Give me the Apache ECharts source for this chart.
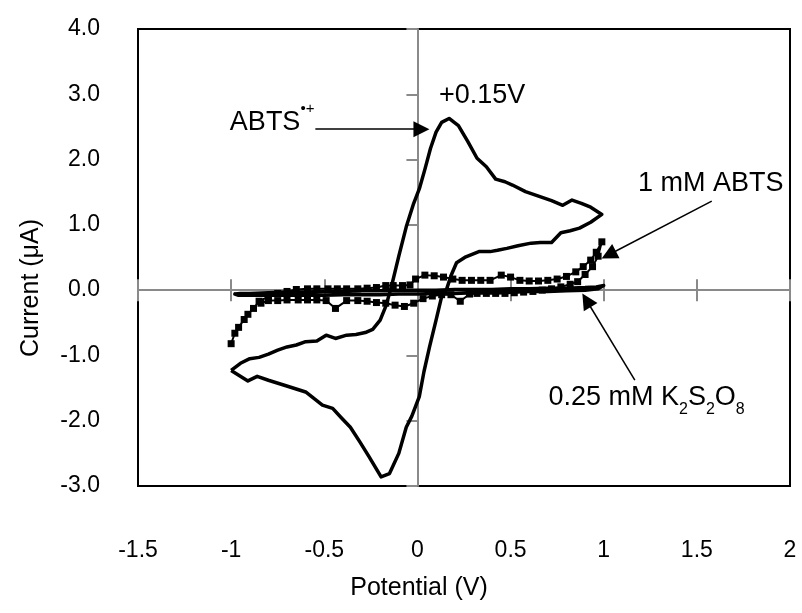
<!DOCTYPE html>
<html><head><meta charset="utf-8">
<script src="https://cdn.jsdelivr.net/npm/echarts@6/dist/echarts.min.js"></script>
<style>html,body{margin:0;padding:0;background:#fff}#c{width:802px;height:613px}</style>
</head><body><div id="c"></div>
<script>
const FONT = "'Liberation Sans', Arial, sans-serif";

// axis ranges
const xMin = -1.5, xMax = 2, xStep = 0.5;
const yMin = -3, yMax = 4, yStep = 1;

// ABTS radical cation CV (big loop)
const cvV = [-1.00,-0.95,-0.90,-0.85,-0.80,-0.75,-0.70,-0.65,-0.60,-0.54,-0.49,-0.44,-0.38,-0.33,-0.28,-0.24,-0.20,-0.17,-0.14,-0.10,-0.06,-0.02,0.01,0.04,0.07,0.10,0.13,0.17,0.22,0.27,0.32,0.37,0.42,0.47,0.51,0.58,0.65,0.72,0.78,0.83,0.88,0.93,0.99,0.93,0.87,0.82,0.77,0.72,0.66,0.61,0.54,0.48,0.43,0.39,0.33,0.26,0.21,0.18,0.155,0.13,0.10,0.065,0.035,0.01,-0.03,-0.06,-0.10,-0.15,-0.195,-0.26,-0.31,-0.36,-0.41,-0.455,-0.51,-0.60,-0.71,-0.80,-0.86,-0.91,-1.00];
const cvI = [-1.23,-1.12,-1.05,-1.03,-0.98,-0.92,-0.87,-0.84,-0.79,-0.78,-0.69,-0.74,-0.69,-0.68,-0.65,-0.60,-0.46,-0.25,0.05,0.52,0.97,1.33,1.55,1.85,2.17,2.42,2.57,2.63,2.52,2.28,2.02,1.89,1.70,1.66,1.61,1.51,1.44,1.37,1.30,1.38,1.33,1.27,1.16,1.04,0.95,0.91,0.88,0.73,0.73,0.72,0.68,0.64,0.61,0.59,0.59,0.51,0.42,0.22,0.00,-0.10,-0.46,-0.87,-1.25,-1.63,-1.93,-2.10,-2.50,-2.81,-2.86,-2.55,-2.32,-2.10,-1.95,-1.81,-1.76,-1.56,-1.46,-1.38,-1.32,-1.39,-1.23];

// 1 mM ABTS (square markers)
const abtsV = [-1.00,-0.98,-0.96,-0.93,-0.91,-0.88,-0.85,-0.80,-0.75,-0.70,-0.65,-0.59,-0.54,-0.48,-0.43,-0.38,-0.32,-0.27,-0.22,-0.17,-0.13,-0.08,-0.04,-0.01,0.04,0.09,0.14,0.19,0.24,0.29,0.34,0.39,0.45,0.50,0.55,0.60,0.65,0.70,0.75,0.80,0.85,0.89,0.93,0.96,0.99,0.97,0.94,0.90,0.86,0.82,0.77,0.72,0.67,0.62,0.57,0.52,0.47,0.42,0.37,0.32,0.28,0.23,0.18,0.13,0.08,0.03,-0.02,-0.07,-0.12,-0.17,-0.22,-0.27,-0.32,-0.38,-0.44,-0.49,-0.54,-0.59,-0.64,-0.70,-0.75,-0.80,-0.84];
const abtsI = [-0.82,-0.66,-0.57,-0.45,-0.37,-0.28,-0.17,-0.10,-0.05,-0.02,0.01,0.02,0.02,0.02,0.02,0.02,0.02,0.03,0.04,0.07,0.07,0.07,0.08,0.17,0.23,0.22,0.20,0.17,0.15,0.15,0.15,0.15,0.23,0.20,0.15,0.14,0.14,0.15,0.17,0.21,0.28,0.36,0.46,0.58,0.74,0.52,0.36,0.24,0.13,0.09,0.05,0.02,0.00,-0.02,-0.03,-0.04,-0.05,-0.05,-0.05,-0.05,-0.06,-0.17,-0.07,-0.07,-0.09,-0.13,-0.20,-0.25,-0.23,-0.20,-0.19,-0.17,-0.16,-0.16,-0.28,-0.16,-0.15,-0.15,-0.15,-0.15,-0.16,-0.16,-0.20];

// 0.25 mM K2S2O8
const persV = [-0.98,-0.95,-0.90,-0.80,-0.70,-0.60,-0.50,-0.40,-0.30,-0.20,-0.10,0.00,0.10,0.20,0.30,0.40,0.50,0.60,0.70,0.80,0.90,0.96,1.00,0.97,0.90,0.80,0.70,0.60,0.50,0.40,0.30,0.20,0.10,0.00,-0.10,-0.20,-0.30,-0.40,-0.50,-0.60,-0.70,-0.80,-0.90,-0.96,-0.98];
const persI = [-0.06,-0.05,-0.05,-0.04,-0.03,-0.03,-0.02,-0.02,-0.01,-0.01,0.00,0.00,0.00,0.01,0.01,0.01,0.02,0.02,0.03,0.03,0.04,0.05,0.07,0.02,0.00,-0.01,-0.02,-0.02,-0.03,-0.04,-0.04,-0.05,-0.05,-0.06,-0.06,-0.07,-0.07,-0.07,-0.08,-0.08,-0.08,-0.08,-0.08,-0.08,-0.06];

// annotation anchors (data coordinates)
const noteRadical = [-0.78, 2.564];
const notePeak = [0.347, 2.98];
const noteAbts = [1.575, 1.64];
const notePers = [1.23, -1.648];
const arrowRadical = [[-0.548, 2.466], [0.0215, 2.466]];
const arrowAbts = [[1.58, 1.364], [1.027, 0.542]];
const arrowPers = [[1.167, -1.379], [0.9075, -0.155]];

function zip(a, b) { return a.map((v, k) => [v, b[k]]); }

const AX = '#8a8a8a';
const baseX = { type: 'value', min: xMin, max: xMax, interval: xStep, splitLine: { show: false }, position: 'bottom' };
const baseY = { type: 'value', min: yMin, max: yMax, interval: yStep, splitLine: { show: false }, position: 'left' };

const chart = echarts.init(document.getElementById('c'), null, { renderer: 'canvas' });

function note(coord, text, extra) {
  return {
    coord: coord,
    label: Object.assign({
      show: true, position: 'inside', color: '#000', fontSize: 27, fontFamily: FONT,
      formatter: function () { return text; }
    }, extra || {})
  };
}
function arrow(pair) {
  return [
    { coord: pair[0], symbol: 'none' },
    { coord: pair[1], symbol: 'triangle', symbolSize: 16 }
  ];
}

chart.setOption({
  animation: false,
  backgroundColor: '#fff',
  grid: { left: 138, top: 29, width: 652, height: 457, show: true, borderColor: '#000', borderWidth: 2, backgroundColor: 'transparent' },
  xAxis: [
    Object.assign({}, baseX, {
      axisLine: { show: false, onZero: false }, axisTick: { show: false },
      axisLabel: { margin: 53, fontSize: 23, color: '#000', fontFamily: FONT }
    }),
    Object.assign({}, baseX, {
      axisLine: { show: true, onZero: true, onZeroAxisIndex: 0, lineStyle: { color: AX, width: 2 } },
      axisTick: { show: true, inside: true, length: 11, lineStyle: { color: AX, width: 2 } },
      axisLabel: { show: false }
    }),
    Object.assign({}, baseX, {
      axisLine: { show: true, onZero: true, onZeroAxisIndex: 0, lineStyle: { color: AX, width: 2 } },
      axisTick: { show: true, inside: false, length: 11, lineStyle: { color: AX, width: 2 } },
      axisLabel: { show: false }
    })
  ],
  yAxis: [
    Object.assign({}, baseY, {
      axisLine: { show: false, onZero: false }, axisTick: { show: false },
      axisLabel: { margin: 38, fontSize: 23, color: '#000', fontFamily: FONT, formatter: v => v.toFixed(1) }
    }),
    Object.assign({}, baseY, {
      axisLine: { show: true, onZero: true, onZeroAxisIndex: 1, lineStyle: { color: AX, width: 2 } },
      axisTick: { show: true, inside: false, length: 11, lineStyle: { color: AX, width: 2 } },
      axisLabel: { show: false }
    })
  ],
  graphic: [
    { type: 'text', x: 419, y: 588, style: { text: 'Potential (V)', fontSize: 25, fontFamily: FONT, fill: '#000', align: 'center', verticalAlign: 'middle' } },
    { type: 'text', x: 31, y: 288, rotation: Math.PI / 2, style: { text: 'Current (μA)', fontSize: 25, fontFamily: FONT, fill: '#000', align: 'center', verticalAlign: 'middle' } }
  ],
  series: [
    {
      type: 'line', data: zip(persV, persI), symbol: 'none', smooth: false,
      lineStyle: { color: '#000', width: 3.5, cap: 'round', join: 'round' }, z: 2
    },
    {
      type: 'line', data: zip(abtsV, abtsI), symbol: 'rect', symbolSize: 7, showAllSymbol: true,
      itemStyle: { color: '#000' }, lineStyle: { color: '#000', width: 2 }, z: 3
    },
    {
      type: 'line', data: zip(cvV, cvI), symbol: 'none', smooth: false,
      itemStyle: { color: '#000' },
      lineStyle: { color: '#000', width: 3.5, join: 'round' }, z: 4,
      markLine: {
        silent: true, symbol: ['none', 'triangle'], symbolSize: 16,
        label: { show: false },
        itemStyle: { color: '#000' },
        lineStyle: { color: '#000', width: 1.5, type: 'solid' },
        emphasis: { disabled: true },
        data: [arrow(arrowRadical), arrow(arrowAbts), arrow(arrowPers)]
      },
      markPoint: {
        silent: true, symbol: 'circle', symbolSize: 1, itemStyle: { color: 'rgba(0,0,0,0)' },
        data: [
          note(noteRadical, 'ABTS{s|•+}', { lineHeight: 42, rich: { s: { fontSize: 15, fontFamily: FONT, color: '#000', verticalAlign: 'top', lineHeight: 15 } } }),
          note(notePeak, '+0.15V'),
          note(noteAbts, '1 mM ABTS'),
          note(notePers, '0.25 mM K{b|2}S{b|2}O{b|8}', { lineHeight: 40, rich: { b: { fontSize: 16, fontFamily: FONT, color: '#000', verticalAlign: 'bottom', lineHeight: 18 } } })
        ]
      }
    }
  ]
});
</script>
</body></html>
